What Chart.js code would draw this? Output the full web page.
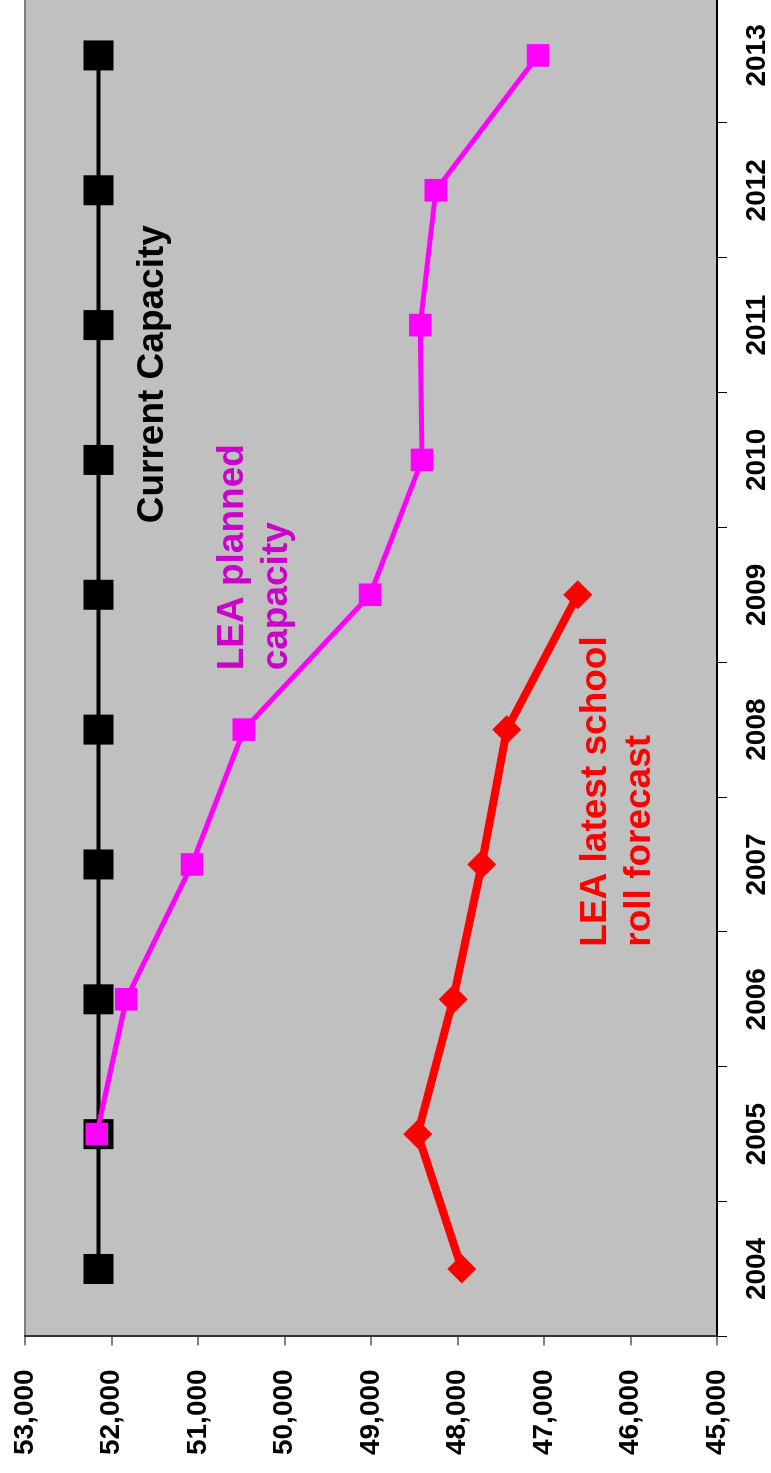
<!DOCTYPE html>
<html>
<head>
<meta charset="utf-8">
<script src="https://cdn.jsdelivr.net/npm/chart.js@4.4.0/dist/chart.umd.min.js"></script>
<style>
  html, body { margin: 0; padding: 0; background: #fff; overflow: hidden; }
  body { width: 771px; height: 1473px; position: relative; }
  /* the chart is drawn landscape and turned a quarter turn to the left */
  #wrap {
    position: absolute; left: 0; top: 0;
    width: 1500px; height: 771px;
    transform-origin: 0 0;
    transform: translateY(1473px) rotate(-90deg);
  }
</style>
</head>
<body>
<div id="wrap"><canvas id="capacityChart" width="1500" height="771"></canvas></div>
<script>
const years = ["2004", "2005", "2006", "2007", "2008", "2009", "2010", "2011", "2012", "2013"];

const currentCapacity = [52150, 52150, 52150, 52150, 52150, 52150, 52150, 52150, 52150, 52150];
const plannedCapacity = [null, 52170, 51830, 51070, 50470, 49010, 48410, 48430, 48250, 47070];
const rollForecast = [47950, 48460, 48050, 47720, 47430, 46610, null, null, null, null];

const VALUE_MIN = 45000;
const VALUE_MAX = 53000;
const VALUE_STEP = 1000;

// Text notes placed in data units (category index, value of first baseline)
const notes = [
  { lines: ["Current Capacity"], at: 5.53, value: 51405, color: "#000000" },
  { lines: ["LEA planned", "capacity"], at: 4.44, value: 50480, color: "#CC00CC" },
  { lines: ["LEA latest school", "roll forecast"], at: 2.39, value: 46283, color: "#FF0000" },
];

const FONT = "'Liberation Sans', Arial, sans-serif";

// Grey plot area
const plotBackground = {
  id: "plotBackground",
  beforeDraw(chart) {
    const { ctx, chartArea } = chart;
    ctx.save();
    ctx.fillStyle = "#C0C0C0";
    ctx.fillRect(chartArea.left, chartArea.top, chartArea.width, chartArea.height);
    ctx.restore();
  },
};

// Series names written beside the lines
const seriesNotes = {
  id: "seriesNotes",
  afterDatasetsDraw(chart) {
    const { ctx } = chart;
    const xs = chart.scales.x;
    const ys = chart.scales.y;
    ctx.save();
    ctx.font = "bold 37px " + FONT;
    ctx.textAlign = "left";
    ctx.textBaseline = "alphabetic";
    notes.forEach((note) => {
      const x = xs.getPixelForValue(note.at);
      const y = ys.getPixelForValue(note.value);
      ctx.fillStyle = note.color;
      note.lines.forEach((line, i) => ctx.fillText(line, x, y + i * 44));
    });
    ctx.restore();
  },
};

const ctx = document.getElementById("capacityChart").getContext("2d");

new Chart(ctx, {
  type: "line",
  data: {
    labels: years,
    datasets: [
      {
        label: "LEA planned capacity",
        data: plannedCapacity,
        borderColor: "#FF00FF",
        backgroundColor: "#FF00FF",
        borderWidth: 5,
        pointStyle: "rect",
        pointRadius: 16,
        pointBorderWidth: 0,
        order: 0,
      },
      {
        label: "LEA latest school roll forecast",
        data: rollForecast,
        borderColor: "#FF0000",
        backgroundColor: "#FF0000",
        borderWidth: 8,
        pointStyle: "rectRot",
        pointRadius: 14.5,
        pointBorderWidth: 0,
        order: 1,
      },
      {
        label: "Current Capacity",
        data: currentCapacity,
        borderColor: "#000000",
        backgroundColor: "#000000",
        borderWidth: 4,
        pointStyle: "rect",
        pointRadius: 21.2,
        pointBorderWidth: 0,
        order: 2,
      },
    ],
  },
  options: {
    responsive: false,
    animation: false,
    devicePixelRatio: 1,
    locale: "en-US",
    layout: { autoPadding: false, padding: { left: 17, right: 15, top: 25, bottom: 0 } },
    elements: { line: { tension: 0 } },
    scales: {
      x: {
        type: "category",
        offset: true,
        afterFit: (scale) => { scale.height = 54; },
        grid: {
          offset: true,
          color: "rgba(0,0,0,0)",
          tickColor: "#000000",
          tickLength: 10,
        },
        border: { color: "#000000", width: 2 },
        ticks: {
          color: "#000000",
          padding: 16,
          maxRotation: 0,
          autoSkip: false,
          font: { family: FONT, size: 28, weight: "bold", lineHeight: 1 },
        },
      },
      y: {
        min: VALUE_MIN,
        max: VALUE_MAX,
        afterFit: (scale) => {
          scale.width = 119.6;
          scale.paddingTop = 0;
          scale.paddingBottom = 0;
        },
        grid: {
          color: (c) => (c.tick && c.tick.value === VALUE_MAX ? "#808080" : "rgba(0,0,0,0)"),
          lineWidth: 2,
          tickColor: "#808080",
          tickLength: 9,
        },
        border: { color: "#333333", width: 2 },
        ticks: {
          stepSize: VALUE_STEP,
          color: "#000000",
          padding: 24,
          font: { family: FONT, size: 28, weight: "bold", lineHeight: 1 },
        },
      },
    },
    plugins: {
      legend: { display: false },
      tooltip: { enabled: false },
    },
  },
  plugins: [plotBackground, seriesNotes],
});
</script>
</body>
</html>
